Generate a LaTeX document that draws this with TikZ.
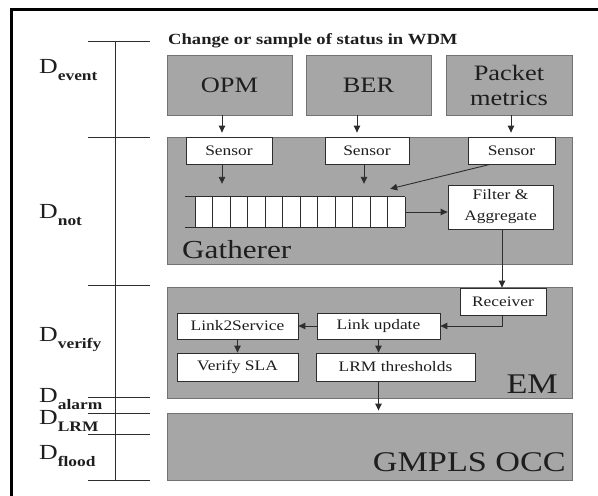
\documentclass[tikz,border=0pt]{standalone}
\usepackage{fontspec}
\setmainfont{Liberation Serif}[FakeStretch=1.2]
\usetikzlibrary{arrows.meta}
\definecolor{boxgray}{RGB}{166,166,166}
\definecolor{edgegray}{RGB}{115,115,115}
\definecolor{ink}{RGB}{30,30,30}
\definecolor{lineink}{RGB}{45,45,45}
\newcommand\Dlab[1]{{\fontsize{21.5}{22}\selectfont D}\raisebox{-7.5pt}{\fontsize{14.5}{15}\selectfont\bfseries #1}}
\tikzset{
  graybox/.style={draw=edgegray, line width=0.9pt, fill=boxgray, inner sep=0pt, text=ink},
  bigbox/.style={graybox, align=center, font=\fontsize{22}{25}\selectfont},
  whitebox/.style={draw=lineink, line width=0.8pt, fill=white, inner sep=0pt, text=ink, align=center, font=\fontsize{14.5}{21}\selectfont},
  arr/.style={draw=lineink, line width=0.9pt, -{Triangle[length=7pt,width=6.5pt]}},
  scaleline/.style={draw=lineink, line width=0.8pt},
  dlabel/.style={anchor=base west, inner sep=0pt, text=ink},
  bigtext/.style={inner sep=0pt, text=ink, font=\fontsize{28.5}{30}\selectfont}
}
\begin{document}
\begin{tikzpicture}[x=1pt,y=-1pt]
\useasboundingbox (0,0) rectangle (598,496);
% frame
\draw[line width=3pt] (11.5,496) -- (11.5,9.5) -- (598,9.5);

% top text
\node[anchor=base west, inner sep=0pt, text=ink, font=\fontsize{15.5}{17}\selectfont\bfseries] (title) at (168,44) {Change or sample of status in WDM};

% top boxes
\node[bigbox, minimum width=125pt, minimum height=60pt] (opm) at (229.5,85) {OPM};
\node[bigbox, minimum width=125pt, minimum height=60pt] (ber) at (368.5,85) {BER};
\node[bigbox, minimum width=126pt, minimum height=60pt] (pm) at (509,85) {Packet\\metrics};

% gatherer
\node[graybox, minimum width=405pt, minimum height=127pt] (gath) at (369.5,200.5) {};
\node[anchor=base west, inner sep=0pt, text=ink, font=\fontsize{26}{28}\selectfont] (gathl) at (182,258) {Gatherer};
\node[whitebox, minimum width=86pt, minimum height=27pt] (s1) at (229,150.5) {Sensor};
\node[whitebox, minimum width=84pt, minimum height=27pt] (s2) at (367,150.5) {Sensor};
\node[whitebox, minimum width=87pt, minimum height=27pt] (s3) at (511.5,150.5) {Sensor};
\node[whitebox, minimum width=105pt, minimum height=44pt] (filt) at (500.5,207) {Filter \&\\Aggregate};

% queue
\node[fill=white, inner sep=0pt, minimum width=210pt, minimum height=30pt] (q) at (300,212) {};
\draw[scaleline] ([xshift=-10pt]q.north west) -- (q.north east);
\draw[scaleline] ([xshift=-10pt]q.south west) -- (q.south east);
\foreach \i in {0,...,12} \draw[scaleline] (195+17.5*\i,197) -- (195+17.5*\i,227);

% EM
\node[graybox, minimum width=405pt, minimum height=111pt] (em) at (369.5,342.5) {};
\node[anchor=base east, bigtext] (eml) at (558,393) {EM};
\node[whitebox, minimum width=86pt, minimum height=27pt] (rec) at (503,301.5) {Receiver};
\node[whitebox, minimum width=123pt, minimum height=26pt] (lu) at (378.5,326) {Link update};
\node[whitebox, minimum width=121pt, minimum height=26pt] (l2s) at (237.5,326) {Link2Service};
\node[whitebox, minimum width=121pt, minimum height=28pt] (vsla) at (237.5,367) {Verify SLA};
\node[whitebox, minimum width=159pt, minimum height=28pt] (lrm) at (395.5,367) {LRM thresholds};

% GMPLS
\node[graybox, minimum width=405pt, minimum height=67pt] (gm) at (369.5,446.5) {};
\node[anchor=base east, bigtext] (gml) at (566,471) {GMPLS OCC};

% arrows
\draw[arr, shorten >=4pt] ([xshift=-7.5pt]opm.south) -- ([xshift=-7.5pt]opm.south |- s1.north);
\draw[arr, shorten >=4pt] ([xshift=-11.5pt]ber.south) -- ([xshift=-11.5pt]ber.south |- s2.north);
\draw[arr, shorten >=4pt] ([xshift=2pt]pm.south) -- ([xshift=2pt]pm.south |- s3.north);
\draw[arr, shorten >=13pt] ([xshift=-7pt]s1.south) -- ([xshift=-7pt]s1.south |- q.north);
\draw[arr, shorten >=13pt] ([xshift=-3pt]s2.south) -- ([xshift=-3pt]s2.south |- q.north);
\draw[arr] ([xshift=-21.5pt]s3.south) -- ([xshift=-15pt,yshift=8pt]q.north east);
\draw[arr] (q.east) -- (q.east -| filt.west);
\draw[arr] ([xshift=1.5pt]filt.south) -- ([xshift=1.5pt]filt.south |- rec.north);
\draw[arr] ([xshift=-1pt]rec.south) |- (lu.east);
\draw[arr] (lu.west) -- (l2s.east);
\draw[arr] (l2s.south) -- (vsla.north);
\draw[arr] (lu.south) -- (lu.south |- lrm.north);
\draw[arr, shorten >=2pt] (lu.south |- lrm.south) -- (lu.south |- gm.north);

% delay scale
\draw[scaleline] (115,41) -- (115,480);
\foreach \yy in {41,137,285,397,413,434,480} \draw[scaleline] (88,\yy) -- (150,\yy);
\node[dlabel] (dev) at (39,73) {\Dlab{event}};
\node[dlabel] (dnot) at (39,218) {\Dlab{not}};
\node[dlabel] (dver) at (39,341) {\Dlab{verify}};
\node[dlabel] (dal) at (39,402) {\Dlab{alarm}};
\node[dlabel] (dlrm) at (39,424) {\Dlab{LRM}};
\node[dlabel] (dfl) at (39,459) {\Dlab{flood}};
\end{tikzpicture}
\end{document}
